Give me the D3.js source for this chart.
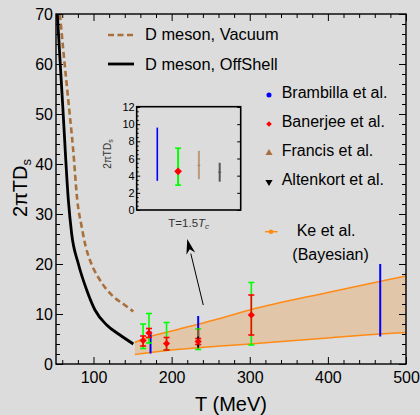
<!DOCTYPE html>
<html>
<head>
<meta charset="utf-8">
<script src="https://cdn.jsdelivr.net/npm/d3@7"></script>
<style>
body { margin: 0; background: #dcdcdc; }
svg { display: block; font-family: "Liberation Sans", Arial, Helvetica, sans-serif; }
.axis .domain { display: none; }
.axis line { stroke: #000; stroke-width: 1; }
.axis text { font-size: 16px; fill: #000; font-family: "Liberation Sans", Arial, sans-serif; }
.inaxis text { font-size: 11px; }
</style>
</head>
<body>
<script>
/* D meson curves */
var vacT   = [57, 61.3, 67.7, 74, 79.2, 84.8, 90, 95.4, 108.2, 125.3, 140, 150.9];
var vacVal = [70, 62.8, 52.8, 42.8, 32.8, 27.5, 23.5, 20.8, 16.8, 13.5, 11.8, 10.5];
var offT   = [53.7, 60.7, 67.8, 72, 80.5, 91.3, 101.9, 116.9, 133.9, 151];
var offVal = [70, 51.4, 32.8, 26.1, 20.1, 14.8, 10.8, 7.8, 5.8, 4.0];

/* Ke et al. (Bayesian) band */
var keT     = [153, 163, 200, 262, 300, 400, 466, 500];
var keUpper = [4.3, 5.0, 6.6, 9.1, 10.8, 14.3, 16.5, 17.6];
var keLower = [1.9, 2.1, 2.8, 3.6, 4.0, 5.2, 6.0, 6.3];

/* lattice points */
var banT      = [163.5, 171, 193.5, 234, 302];
var banVal    = [4.7, 6.2, 4.1, 4.5, 9.8];
var banGreenLo = [3.1, 4.2, 2.8, 2.9, 3.8];
var banGreenHi = [8.0, 10.1, 8.3, 7.0, 16.3];
var banRedLo  = [3.6, 5.3, 2.8, 3.9, 5.8];
var banRedHi  = [5.6, 7.1, 5.3, 5.1, 13.8];

var bramT  = [173, 234, 467];
var bramLo = [2.1, 3.4, 5.5];
var bramHi = [6.5, 9.6, 20.0];

var franT = [234], franLo = [3.1], franHi = [7.1];
var altT  = [234], altLo  = [3.3], altHi  = [5.5];

/* inset at T = 1.5 Tc */
var insetCats = ["Brambilla", "Banerjee", "Francis", "Altenkort"];
var insetLo   = [3.4, 2.9, 3.6, 3.3];
var insetHi   = [9.6, 7.2, 6.9, 5.5];
var insetMid  = [null, 4.5, 5.2, 4.4];

/* ticks */
var xTicks = [100, 200, 300, 400, 500];
var yTicks = [0, 10, 20, 30, 40, 50, 60, 70];
var insetTicks = [0, 2, 4, 6, 8, 10, 12];

var w = 420, h = 415;
var plot = {left: 56, right: 406, top: 14, bottom: 364};
var inset = {left: 136.7, right: 240.7, top: 106.7, bottom: 210};

var brown = "#a8703c", orange = "#ff8a14";

var svg = d3.select("body").append("svg")
	.attr("width", w)
	.attr("height", h);

/*Scales*/
var xScale = d3.scaleLinear().domain([52, 500]).range([plot.left, plot.right]);
var yScale = d3.scaleLinear().domain([0, 70]).range([plot.bottom, plot.top]);

svg.append("clipPath").attr("id", "clip")
	.append("rect")
	.attr("x", plot.left).attr("y", plot.top)
	.attr("width", plot.right - plot.left).attr("height", plot.bottom - plot.top);

var gPlot = svg.append("g").attr("clip-path", "url(#clip)");

/*Band*/
var ke = keT.map(function(t, i) { return {t: t, lo: keLower[i], hi: keUpper[i]}; });
gPlot.append("path")
	.datum(ke)
	.attr("fill", "#e2c6aa")
	.attr("d", d3.area()
		.x(function(d) { return xScale(d.t); })
		.y0(function(d) { return yScale(d.lo); })
		.y1(function(d) { return yScale(d.hi); })
		.curve(d3.curveMonotoneX));
["lo", "hi"].forEach(function(k) {
	gPlot.append("path")
		.datum(ke)
		.attr("fill", "none")
		.attr("stroke", orange)
		.attr("stroke-width", 1.5)
		.attr("d", d3.line()
			.x(function(d) { return xScale(d.t); })
			.y(function(d) { return yScale(d[k]); })
			.curve(d3.curveMonotoneX));
});

/*Curves*/
var curve = d3.line()
	.x(function(d) { return xScale(d[0]); })
	.y(function(d) { return yScale(d[1]); })
	.curve(d3.curveMonotoneX);
gPlot.append("path")
	.datum(d3.zip(vacT, vacVal))
	.attr("fill", "none")
	.attr("stroke", brown)
	.attr("stroke-width", 2.6)
	.attr("stroke-dasharray", "6,3.5")
	.attr("d", curve);
gPlot.append("path")
	.datum(d3.zip(offT, offVal))
	.attr("fill", "none")
	.attr("stroke", "#000")
	.attr("stroke-width", 2.8)
	.attr("d", curve);

/*Error bars*/
function errBar(g, x, y1, y2, color, sw, cap) {
	g.append("line")
		.attr("x1", x).attr("x2", x)
		.attr("y1", y1).attr("y2", y2)
		.attr("stroke", color)
		.attr("stroke-width", sw);
	if (cap) {
		[y1, y2].forEach(function(y) {
			g.append("line")
				.attr("x1", x - cap).attr("x2", x + cap)
				.attr("y1", y).attr("y2", y)
				.attr("stroke", color)
				.attr("stroke-width", 1.6);
		});
	}
}
function diamond(g, x, y, s) {
	g.append("path")
		.attr("d", d3.symbol().type(d3.symbolSquare).size(s)())
		.attr("transform", "translate(" + x + "," + y + ") rotate(45)")
		.attr("fill", "#ff0000");
}

var gPts = svg.append("g");
bramT.forEach(function(t, i) {
	errBar(gPts, xScale(t), yScale(bramLo[i]), yScale(bramHi[i]), "#0000ff", 2, 0);
});
banT.forEach(function(t, i) {
	errBar(gPts, xScale(t), yScale(banGreenLo[i]), yScale(banGreenHi[i]), "#00ff00", 1.6, 3);
	errBar(gPts, xScale(t), yScale(banRedLo[i]), yScale(banRedHi[i]), "#ff0000", 1.6, 3);
});
franT.forEach(function(t, i) {
	errBar(gPts, xScale(t), yScale(franLo[i]), yScale(franHi[i]), "#8a5a2a", 2, 0);
});
altT.forEach(function(t, i) {
	errBar(gPts, xScale(t), yScale(altLo[i]), yScale(altHi[i]), "#000", 1.6, 0);
});
banT.forEach(function(t, i) {
	diamond(gPts, xScale(t), yScale(banVal[i]), 26);
});

/*Frame & axes*/
var xMinor = d3.range(60, 501, 20).filter(function(v) { return v % 100 !== 0; });
var yMinor = d3.range(0, 71, 2).filter(function(v) { return v % 10 !== 0; });

svg.append("g").attr("class", "axis")
	.attr("transform", "translate(0," + plot.bottom + ")")
	.call(d3.axisBottom(xScale).tickValues(xTicks).tickSize(-7).tickPadding(8).tickFormat(d3.format("d")));
svg.append("g").attr("class", "axis")
	.attr("transform", "translate(0," + plot.bottom + ")")
	.call(d3.axisBottom(xScale).tickValues(xMinor).tickSize(-4).tickFormat(""));
svg.append("g").attr("class", "axis")
	.attr("transform", "translate(0," + plot.top + ")")
	.call(d3.axisTop(xScale).tickValues(xTicks).tickSize(-7).tickFormat(""));
svg.append("g").attr("class", "axis")
	.attr("transform", "translate(0," + plot.top + ")")
	.call(d3.axisTop(xScale).tickValues(xMinor).tickSize(-4).tickFormat(""));
svg.append("g").attr("class", "axis")
	.attr("transform", "translate(" + plot.left + ",0)")
	.call(d3.axisLeft(yScale).tickValues(yTicks).tickSize(-7).tickPadding(3));
svg.append("g").attr("class", "axis")
	.attr("transform", "translate(" + plot.left + ",0)")
	.call(d3.axisLeft(yScale).tickValues(yMinor).tickSize(-4).tickFormat(""));
svg.append("g").attr("class", "axis")
	.attr("transform", "translate(" + plot.right + ",0)")
	.call(d3.axisRight(yScale).tickValues(yTicks).tickSize(-7).tickFormat(""));
svg.append("g").attr("class", "axis")
	.attr("transform", "translate(" + plot.right + ",0)")
	.call(d3.axisRight(yScale).tickValues(yMinor).tickSize(-4).tickFormat(""));

svg.append("rect")
	.attr("x", plot.left).attr("y", plot.top)
	.attr("width", plot.right - plot.left).attr("height", plot.bottom - plot.top)
	.attr("fill", "none")
	.attr("stroke", "#000")
	.attr("stroke-width", 1.4);

/*Axis titles*/
svg.append("text")
	.attr("x", 231).attr("y", 411)
	.attr("text-anchor", "middle")
	.attr("font-size", 20)
	.text("T (MeV)");
var yt = svg.append("text")
	.attr("transform", "translate(26.5,188) rotate(-90)")
	.attr("text-anchor", "middle")
	.attr("font-size", 20);
yt.append("tspan").text("2\u03C0TD");
yt.append("tspan").attr("font-size", 13).attr("dy", 4).text("s");

/*Legends*/
svg.append("line")
	.attr("x1", 108).attr("x2", 134).attr("y1", 35).attr("y2", 35)
	.attr("stroke", brown).attr("stroke-width", 2.6).attr("stroke-dasharray", "6,3.5");
svg.append("text").attr("x", 145).attr("y", 40).attr("font-size", 16.4).text("D meson, Vacuum");
svg.append("line")
	.attr("x1", 108).attr("x2", 134).attr("y1", 64).attr("y2", 64)
	.attr("stroke", "#000").attr("stroke-width", 2.8);
svg.append("text").attr("x", 145).attr("y", 69.5).attr("font-size", 16.4).text("D meson, OffShell");

var legNames = ["Brambilla et al.", "Banerjee et al.", "Francis et al.", "Altenkort et al."];
var legSym = [d3.symbolCircle, d3.symbolSquare, d3.symbolTriangle, d3.symbolTriangle];
var legCol = ["#0000ff", "#ff0000", "#a8703c", "#000"];
legNames.forEach(function(n, i) {
	var y = 95 + i * 29;
	var tr = "translate(269," + y + ")";
	if (i === 1) tr += " rotate(45)";
	if (i === 3) tr += " rotate(180)";
	svg.append("path")
		.attr("d", d3.symbol().type(legSym[i]).size(i === 0 ? 20 : (i === 1 ? 16 : 22))())
		.attr("transform", tr)
		.attr("fill", legCol[i]);
	svg.append("text").attr("x", 281.7).attr("y", y + 3 + (i > 0 ? 0.3 : 0)).attr("font-size", 16).text(n);
});

svg.append("line")
	.attr("x1", 265).attr("x2", 277.5).attr("y1", 231.7).attr("y2", 231.7)
	.attr("stroke", orange).attr("stroke-width", 1.5);
svg.append("circle").attr("cx", 271).attr("cy", 231.7).attr("r", 2.3).attr("fill", orange);
svg.append("text").attr("x", 296.7).attr("y", 236).attr("font-size", 16).text("Ke et al.");
svg.append("text").attr("x", 292.3).attr("y", 260).attr("font-size", 16).text("(Bayesian)");

/*Arrow*/
var ax1 = xScale(240.5), ay1 = yScale(11.8), ax2 = xScale(220), ay2 = yScale(25);
var ang = Math.atan2(ay2 - ay1, ax2 - ax1), hl = 15, hw = 4.5;
var bx = ax2 - hl * Math.cos(ang), by = ay2 - hl * Math.sin(ang);
svg.append("line")
	.attr("x1", ax1).attr("y1", ay1).attr("x2", bx).attr("y2", by)
	.attr("stroke", "#000").attr("stroke-width", 1);
svg.append("path")
	.attr("d", "M" + ax2 + "," + ay2 +
		"L" + (bx + hw * Math.sin(ang)) + "," + (by - hw * Math.cos(ang)) +
		"L" + (ax2 - 0.7 * hl * Math.cos(ang)) + "," + (ay2 - 0.7 * hl * Math.sin(ang)) +
		"L" + (bx - hw * Math.sin(ang)) + "," + (by + hw * Math.cos(ang)) + "Z")
	.attr("fill", "#000");

/*Inset*/
var ix = d3.scalePoint().domain(insetCats).range([157.3, 219.7]);
var iy = d3.scaleLinear().domain([0, 12]).range([inset.bottom, inset.top + 0.3]);
var gIn = svg.append("g");
var inCol = ["#0000ff", "#00ff00", "rgba(160,110,60,0.6)", "#555"];
insetCats.forEach(function(c, i) {
	errBar(gIn, ix(c), iy(insetLo[i]), iy(insetHi[i]), inCol[i], i === 0 ? 1.6 : 2, i === 1 ? 3 : 0);
	if (i >= 2) {
		gIn.append("line")
			.attr("x1", ix(c) - 1.5).attr("x2", ix(c) + 1.5)
			.attr("y1", iy(insetMid[i])).attr("y2", iy(insetMid[i]))
			.attr("stroke", inCol[i]).attr("stroke-width", 1);
	}
});
diamond(gIn, ix("Banerjee"), iy(insetMid[1]), 30);

var iMinor = d3.range(0, 12.01, 0.5).filter(function(v) { return v % 2 !== 0; });
svg.append("g").attr("class", "axis inaxis")
	.attr("transform", "translate(" + inset.left + ",0)")
	.call(d3.axisLeft(iy).tickValues(insetTicks).tickSize(-3.5).tickPadding(2));
svg.append("g").attr("class", "axis inaxis")
	.attr("transform", "translate(" + inset.left + ",0)")
	.call(d3.axisLeft(iy).tickValues(iMinor).tickSize(-2).tickFormat(""));
svg.append("g").attr("class", "axis inaxis")
	.attr("transform", "translate(" + inset.right + ",0)")
	.call(d3.axisRight(iy).tickValues(insetTicks).tickSize(-3.5).tickFormat(""));
svg.append("rect")
	.attr("x", inset.left).attr("y", inset.top)
	.attr("width", inset.right - inset.left).attr("height", inset.bottom - inset.top)
	.attr("fill", "none")
	.attr("stroke", "#000")
	.attr("stroke-width", 1.6);

var it = svg.append("text")
	.attr("transform", "translate(111,154) rotate(-90)")
	.attr("text-anchor", "middle")
	.attr("font-size", 10)
	.attr("fill", "#333");
it.append("tspan").text("2\u03C0TD");
it.append("tspan").attr("font-size", 7).attr("dy", 2).text("s");

var tc = svg.append("text")
	.attr("x", 188.7).attr("y", 226.5)
	.attr("text-anchor", "middle")
	.attr("font-size", 11.5)
	.attr("fill", "#333");
tc.append("tspan").text("T=1.5");
tc.append("tspan").attr("font-style", "italic").text("T");
tc.append("tspan").attr("font-size", 8).attr("dy", 2).attr("font-style", "italic").text("c");
</script>
</body>
</html>
